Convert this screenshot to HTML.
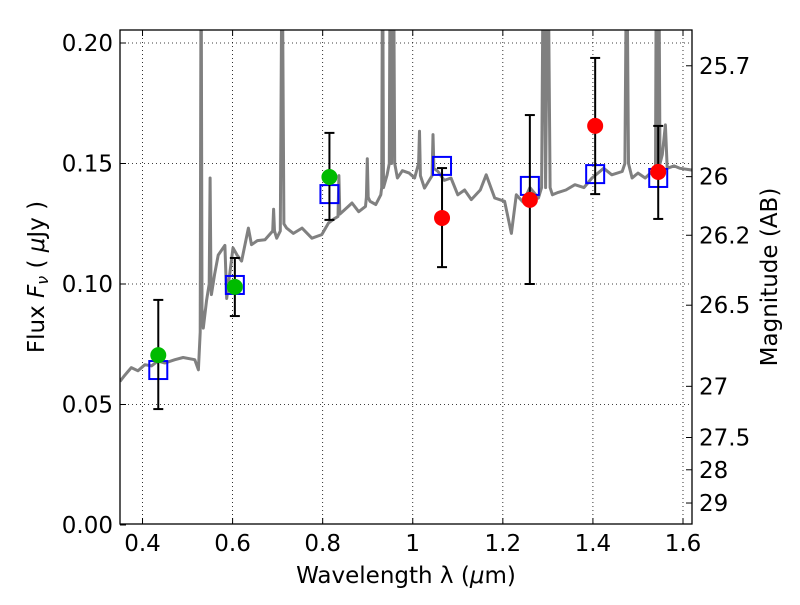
<!DOCTYPE html>
<html><head><meta charset="utf-8"><style>
body{margin:0;background:#fff;width:800px;height:600px;overflow:hidden}
svg text{font-family:"DejaVu Sans","Liberation Sans",sans-serif;fill:#000}
</style></head><body>
<svg id="chart" width="800" height="600" viewBox="0 0 800 600" xmlns="http://www.w3.org/2000/svg">
<defs><clipPath id="plotclip"><rect x="120" y="30" width="572" height="494"/></clipPath></defs>
<rect x="0" y="0" width="800" height="600" fill="#fff"/>
<g id="grid"></g>
<g id="spec" clip-path="url(#plotclip)"></g>
<g id="marks"></g>
<rect x="120" y="30" width="572" height="494" fill="none" stroke="#000" stroke-width="1.3"/>
<g id="axes"></g>
<text x="406" y="583" font-size="23" text-anchor="middle">Wavelength  λ (<tspan font-style="italic">μ</tspan>m)</text>
<text transform="translate(44,277) rotate(-90)" font-size="23" text-anchor="middle">Flux  <tspan font-style="italic">F</tspan><tspan font-style="italic" font-size="16" dy="4">ν</tspan><tspan dy="-4">  ( </tspan><tspan font-style="italic">μ</tspan>Jy )</text>
<text transform="translate(777,277) rotate(-90)" font-size="23" text-anchor="middle">Magnitude (AB)</text>
</svg>
<script>
const xTicks=[0.4,0.6,0.8,1.0,1.2,1.4,1.6];
const xTickLabels=["0.4","0.6","0.8","1","1.2","1.4","1.6"];
const yTicks=[0,0.05,0.10,0.15,0.20];
const yTickLabels=["0.00","0.05","0.10","0.15","0.20"];
const magTicks=[25.7,26,26.2,26.5,27,27.5,28,29];
const magTickLabels=["25.7","26","26.2","26.5","27","27.5","28","29"];
const specWave=[0.35,0.36,0.375,0.39,0.405,0.42,0.434,0.45,0.472,0.49,0.516,0.524,0.528,0.530,0.532,0.535,0.542,0.548,0.550,0.552,0.553,0.56,0.568,0.583,0.587,0.601,0.61,0.62,0.635,0.642,0.655,0.672,0.689,0.691,0.693,0.698,0.706,0.71,0.714,0.72,0.735,0.754,0.776,0.798,0.813,0.825,0.834,0.836,0.838,0.85,0.865,0.88,0.895,0.897,0.899,0.901,0.905,0.918,0.929,0.931,0.933,0.935,0.943,0.948,0.950,0.953,0.957,0.960,0.966,0.977,0.992,1.004,1.013,1.015,1.017,1.026,1.043,1.045,1.047,1.056,1.07,1.085,1.1,1.115,1.13,1.15,1.163,1.182,1.204,1.219,1.23,1.245,1.26,1.279,1.286,1.29,1.295,1.30,1.305,1.31,1.323,1.34,1.36,1.38,1.398,1.424,1.442,1.465,1.471,1.475,1.479,1.487,1.50,1.516,1.539,1.541,1.543,1.546,1.549,1.554,1.561,1.565,1.58,1.593,1.63];
const specFlux=[0.0596,0.062,0.0653,0.064,0.0665,0.066,0.068,0.0672,0.0686,0.0695,0.0686,0.0644,0.08,0.25,0.09,0.0817,0.093,0.10,0.144,0.10,0.0956,0.104,0.112,0.116,0.094,0.115,0.112,0.1095,0.1232,0.1163,0.118,0.1184,0.122,0.131,0.122,0.119,0.122,0.25,0.125,0.1232,0.121,0.1232,0.119,0.1205,0.1253,0.127,0.128,0.145,0.129,0.131,0.1336,0.130,0.1322,0.136,0.152,0.136,0.1343,0.133,0.137,0.14,0.25,0.14,0.1453,0.15,0.25,0.15,0.25,0.15,0.144,0.147,0.146,0.144,0.15,0.1634,0.145,0.1398,0.145,0.162,0.148,0.1467,0.143,0.144,0.137,0.139,0.135,0.139,0.1453,0.1357,0.1343,0.121,0.137,0.134,0.14,0.1357,0.14,0.25,0.14,0.25,0.14,0.137,0.138,0.139,0.1412,0.140,0.144,0.148,0.1453,0.1467,0.15,0.25,0.15,0.144,0.146,0.144,0.148,0.25,0.15,0.25,0.15,0.1537,0.166,0.148,0.149,0.148,0.147];
const bandWave=[0.435,0.605,0.815,1.065,1.26,1.405,1.545];
const obsFlux=[0.0705,0.0988,0.1444,0.1274,0.1349,0.1656,0.1465];
const errHigh=[0.0934,0.1108,0.1627,0.1481,0.1701,0.1938,0.1656];
const errLow=[0.0481,0.0867,0.1266,0.107,0.100,0.1373,0.127];
const modelFlux=[0.0643,0.0996,0.1373,0.149,0.1407,0.1456,0.144];
const pointColor=["#00bb00","#00bb00","#00bb00","#ff0000","#ff0000","#ff0000","#ff0000"];

const NS="http://www.w3.org/2000/svg";
const X0=0.35,X1=1.62,PX0=120,PX1=692;
const PYS=2410;
function xs(v){return PX0+(v-X0)/(X1-X0)*(PX1-PX0);}
function ys(f){return 525-f*PYS;}
function magY(m){return ys(Math.pow(10,(23.9-m)/2.5));}
function mk(tag,attrs,parent){const e=document.createElementNS(NS,tag);for(const k in attrs)e.setAttribute(k,attrs[k]);parent.appendChild(e);return e;}
const grid=document.getElementById('grid'),axes=document.getElementById('axes'),spec=document.getElementById('spec'),marks=document.getElementById('marks');
xTicks.forEach((t,i)=>{const x=xs(t);
 const g=mk('line',{x1:x,x2:x,y1:30,y2:524,stroke:'#000','stroke-width':0.8,'stroke-dasharray':'1,3'},grid);
 
 
 const a=mk('line',{x1:x,x2:x,y1:524,y2:518,stroke:'#000'},axes);
 
 
 const b=mk('line',{x1:x,x2:x,y1:30,y2:36,stroke:'#000'},axes);
 
 
 const tx=mk('text',{x:x,y:551,'font-size':23,'text-anchor':'middle'},axes);tx.textContent=xTickLabels[i];
 
 });
yTicks.forEach((t,i)=>{const y=ys(t);
 if(t>0){const g=mk('line',{x1:120,x2:692,y1:y,y2:y,stroke:'#000','stroke-width':0.8,'stroke-dasharray':'1,3'},grid);
 
 }
 const a=mk('line',{x1:120,x2:126,y1:y,y2:y,stroke:'#000'},axes);
 
 
 const tx=mk('text',{x:113,y:y+8,'font-size':23,'text-anchor':'end'},axes);tx.textContent=yTickLabels[i];
 
 });
magTicks.forEach((m,i)=>{const y=magY(m);
 const a=mk('line',{x1:686,x2:692,y1:y,y2:y,stroke:'#000'},axes);
 
 
 const tx=mk('text',{x:699,y:y+8,'font-size':23},axes);tx.textContent=magTickLabels[i];
 
 });
let d='';specWave.forEach((w,i)=>{d+=(i?'L':'M')+xs(w).toFixed(1)+','+ys(specFlux[i]).toFixed(1);});
const p=mk('path',{d:d,fill:'none',stroke:'#808080','stroke-width':3,'stroke-linejoin':'round'},spec);


bandWave.forEach((w,i)=>{const x=xs(w);
 const s=mk('rect',{x:x-9,y:ys(modelFlux[i])-9,width:18,height:18,fill:'none',stroke:'#0000ff','stroke-width':2},marks);
 
 
 const e=mk('line',{x1:x,x2:x,y1:ys(errHigh[i]),y2:ys(errLow[i]),stroke:'#000','stroke-width':2},marks);
 
 
 [errHigh[i],errLow[i]].forEach(v=>{const c=mk('line',{x1:x-5,x2:x+5,y1:ys(v),y2:ys(v),stroke:'#000','stroke-width':2},marks);
 
 });
 const c=mk('circle',{cx:x,cy:ys(obsFlux[i]),r:8,fill:pointColor[i]},marks);
 
 });
</script>
</body></html>
